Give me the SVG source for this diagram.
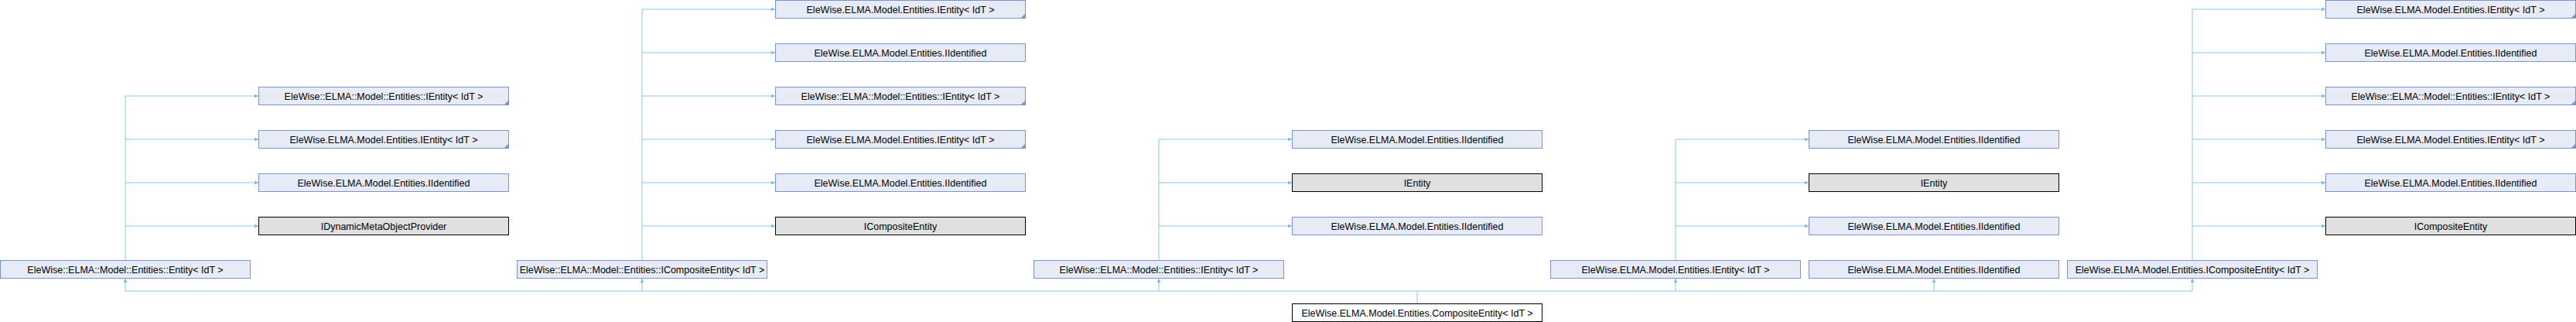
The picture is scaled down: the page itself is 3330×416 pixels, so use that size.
<svg xmlns="http://www.w3.org/2000/svg" width="3330" height="416" viewBox="0 0 3330 416">
<style>
.n rect{fill:#E7EBF5;stroke:#7C92CB;stroke-width:1}
.g rect{fill:#E0E0E0;stroke:#000000;stroke-width:1}
.m rect{fill:#FFFFFF;stroke:#000000;stroke-width:1}
text{font-family:"Liberation Sans",Arial,sans-serif;font-size:12.5px;fill:#000;text-anchor:middle}
.t{fill:#7C92CB}
.e{fill:none;stroke:#8CC6EC;stroke-width:1}
.a{fill:none;stroke:#8CC6EC;stroke-width:1;marker-end:url(#arr)}
</style>
<defs>
<marker id="arr" markerUnits="userSpaceOnUse" markerWidth="6" markerHeight="6" refX="5" refY="2.5" orient="auto">
<path d="M0,0 L5,2.5 L0,5 z" fill="#7DBDE8"/>
</marker>
</defs>
<g id="connectors">
<!-- col1 -->
<path class="e" d="M162,336 V124"/>
<path class="a" d="M162,124 H334"/>
<path class="a" d="M162,180 H334"/>
<path class="a" d="M162,236 H334"/>
<path class="a" d="M162,292 H334"/>
<!-- col2 -->
<path class="e" d="M830,336 V12"/>
<path class="a" d="M830,12 H1002"/>
<path class="a" d="M830,68 H1002"/>
<path class="a" d="M830,124 H1002"/>
<path class="a" d="M830,180 H1002"/>
<path class="a" d="M830,236 H1002"/>
<path class="a" d="M830,292 H1002"/>
<!-- col3 -->
<path class="e" d="M1498,336 V180"/>
<path class="a" d="M1498,180 H1670"/>
<path class="a" d="M1498,236 H1670"/>
<path class="a" d="M1498,292 H1670"/>
<!-- col4 -->
<path class="e" d="M2166,336 V180"/>
<path class="a" d="M2166,180 H2338"/>
<path class="a" d="M2166,236 H2338"/>
<path class="a" d="M2166,292 H2338"/>
<!-- col5 -->
<path class="e" d="M2834,336 V12"/>
<path class="a" d="M2834,12 H3006"/>
<path class="a" d="M2834,68 H3006"/>
<path class="a" d="M2834,124 H3006"/>
<path class="a" d="M2834,180 H3006"/>
<path class="a" d="M2834,236 H3006"/>
<path class="a" d="M2834,292 H3006"/>
<!-- composite to parents -->
<path class="e" d="M1832,392 V376 M162,376 H2834"/>
<path class="a" d="M162,376 V360"/>
<path class="a" d="M830,376 V360"/>
<path class="a" d="M1498,376 V360"/>
<path class="a" d="M2166,376 V360"/>
<path class="a" d="M2500,376 V360"/>
<path class="a" d="M2834,376 V360"/>
</g>
<g id="n_entity" class="n"><rect x="0.5" y="336.5" width="323" height="23"/><text x="162" y="352.5">EleWise::ELMA::Model::Entities::Entity&lt; IdT &gt;</text></g>
<g id="n_c1_r2" class="n"><rect x="334.5" y="112.5" width="323" height="23"/><polygon class="t" points="651.5,135.5 657.5,135.5 657.5,129.5"/><text x="496" y="128.5">EleWise::ELMA::Model::Entities::IEntity&lt; IdT &gt;</text></g>
<g id="n_c1_r3" class="n"><rect x="334.5" y="168.5" width="323" height="23"/><polygon class="t" points="651.5,191.5 657.5,191.5 657.5,185.5"/><text x="496" y="184.5">EleWise.ELMA.Model.Entities.IEntity&lt; IdT &gt;</text></g>
<g id="n_c1_r4" class="n"><rect x="334.5" y="224.5" width="323" height="23"/><text x="496" y="240.5">EleWise.ELMA.Model.Entities.IIdentified</text></g>
<g id="n_c1_r5" class="g"><rect x="334.5" y="280.5" width="323" height="23"/><text x="496" y="296.5">IDynamicMetaObjectProvider</text></g>

<g id="n_icomposite_ns" class="n"><rect x="668.5" y="336.5" width="323" height="23"/><text x="830" y="352.5">EleWise::ELMA::Model::Entities::ICompositeEntity&lt; IdT &gt;</text></g>
<g id="n_c2_r0" class="n"><rect x="1002.5" y="0.5" width="323" height="23"/><polygon class="t" points="1319.5,23.5 1325.5,23.5 1325.5,17.5"/><text x="1164" y="16.5">EleWise.ELMA.Model.Entities.IEntity&lt; IdT &gt;</text></g>
<g id="n_c2_r1" class="n"><rect x="1002.5" y="56.5" width="323" height="23"/><text x="1164" y="72.5">EleWise.ELMA.Model.Entities.IIdentified</text></g>
<g id="n_c2_r2" class="n"><rect x="1002.5" y="112.5" width="323" height="23"/><polygon class="t" points="1319.5,135.5 1325.5,135.5 1325.5,129.5"/><text x="1164" y="128.5">EleWise::ELMA::Model::Entities::IEntity&lt; IdT &gt;</text></g>
<g id="n_c2_r3" class="n"><rect x="1002.5" y="168.5" width="323" height="23"/><polygon class="t" points="1319.5,191.5 1325.5,191.5 1325.5,185.5"/><text x="1164" y="184.5">EleWise.ELMA.Model.Entities.IEntity&lt; IdT &gt;</text></g>
<g id="n_c2_r4" class="n"><rect x="1002.5" y="224.5" width="323" height="23"/><text x="1164" y="240.5">EleWise.ELMA.Model.Entities.IIdentified</text></g>
<g id="n_c2_r5" class="g"><rect x="1002.5" y="280.5" width="323" height="23"/><text x="1164" y="296.5">ICompositeEntity</text></g>

<g id="n_ientity_ns" class="n"><rect x="1336.5" y="336.5" width="323" height="23"/><text x="1498" y="352.5">EleWise::ELMA::Model::Entities::IEntity&lt; IdT &gt;</text></g>
<g id="n_c3_r3" class="n"><rect x="1670.5" y="168.5" width="323" height="23"/><text x="1832" y="184.5">EleWise.ELMA.Model.Entities.IIdentified</text></g>
<g id="n_c3_r4" class="g"><rect x="1670.5" y="224.5" width="323" height="23"/><text x="1832" y="240.5">IEntity</text></g>
<g id="n_c3_r5" class="n"><rect x="1670.5" y="280.5" width="323" height="23"/><text x="1832" y="296.5">EleWise.ELMA.Model.Entities.IIdentified</text></g>

<g id="n_composite" class="m"><rect x="1670.5" y="392.5" width="323" height="23"/><text x="1832" y="408.5">EleWise.ELMA.Model.Entities.CompositeEntity&lt; IdT &gt;</text></g>

<g id="n_ientity_dot" class="n"><rect x="2004.5" y="336.5" width="323" height="23"/><text x="2166" y="352.5">EleWise.ELMA.Model.Entities.IEntity&lt; IdT &gt;</text></g>
<g id="n_c4_r3" class="n"><rect x="2338.5" y="168.5" width="323" height="23"/><text x="2500" y="184.5">EleWise.ELMA.Model.Entities.IIdentified</text></g>
<g id="n_c4_r4" class="g"><rect x="2338.5" y="224.5" width="323" height="23"/><text x="2500" y="240.5">IEntity</text></g>
<g id="n_c4_r5" class="n"><rect x="2338.5" y="280.5" width="323" height="23"/><text x="2500" y="296.5">EleWise.ELMA.Model.Entities.IIdentified</text></g>
<g id="n_iidentified" class="n"><rect x="2338.5" y="336.5" width="323" height="23"/><text x="2500" y="352.5">EleWise.ELMA.Model.Entities.IIdentified</text></g>

<g id="n_icomposite_dot" class="n"><rect x="2672.5" y="336.5" width="323" height="23"/><text x="2834" y="352.5">EleWise.ELMA.Model.Entities.ICompositeEntity&lt; IdT &gt;</text></g>
<g id="n_c5_r0" class="n"><rect x="3006.5" y="0.5" width="323" height="23"/><polygon class="t" points="3323.5,23.5 3329.5,23.5 3329.5,17.5"/><text x="3168" y="16.5">EleWise.ELMA.Model.Entities.IEntity&lt; IdT &gt;</text></g>
<g id="n_c5_r1" class="n"><rect x="3006.5" y="56.5" width="323" height="23"/><text x="3168" y="72.5">EleWise.ELMA.Model.Entities.IIdentified</text></g>
<g id="n_c5_r2" class="n"><rect x="3006.5" y="112.5" width="323" height="23"/><polygon class="t" points="3323.5,135.5 3329.5,135.5 3329.5,129.5"/><text x="3168" y="128.5">EleWise::ELMA::Model::Entities::IEntity&lt; IdT &gt;</text></g>
<g id="n_c5_r3" class="n"><rect x="3006.5" y="168.5" width="323" height="23"/><polygon class="t" points="3323.5,191.5 3329.5,191.5 3329.5,185.5"/><text x="3168" y="184.5">EleWise.ELMA.Model.Entities.IEntity&lt; IdT &gt;</text></g>
<g id="n_c5_r4" class="n"><rect x="3006.5" y="224.5" width="323" height="23"/><text x="3168" y="240.5">EleWise.ELMA.Model.Entities.IIdentified</text></g>
<g id="n_c5_r5" class="g"><rect x="3006.5" y="280.5" width="323" height="23"/><text x="3168" y="296.5">ICompositeEntity</text></g>
</svg>
